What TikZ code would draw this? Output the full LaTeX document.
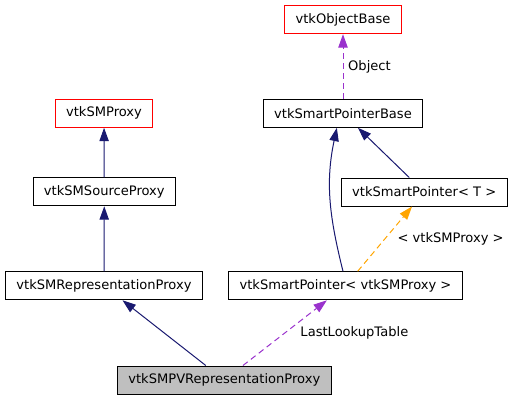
\documentclass[tikz,border=0pt]{standalone}
\usepackage{fontspec}
\setmainfont{DejaVu Sans}
\usetikzlibrary{arrows.meta}
\definecolor{edgeNavy}{HTML}{191970}
\definecolor{edgePurple}{HTML}{9A32CD}
\definecolor{edgeOrange}{HTML}{FFA500}
\definecolor{boxRed}{HTML}{FF0000}
\definecolor{boxGray}{HTML}{BFBFBF}

\begin{document}
\begin{tikzpicture}[
    x=0.75pt, y=-0.75pt,
    cls/.style={rectangle, draw=#1, fill=white, line width=0.75pt,
                minimum height=21pt, inner xsep=8.2pt, inner ysep=0pt,
                font=\fontsize{9.8}{11}\selectfont},
    cls/.default=black,
    inh/.style={-{Triangle[length=10pt, width=7pt]}, line width=0.75pt, edgeNavy},
    usage/.style={-{Triangle[length=10pt, width=7pt]}, line width=0.75pt,
                  dash pattern=on 4.5pt off 3pt, #1},
    lbl/.style={font=\fontsize{9.8}{11}\selectfont, text=black, inner sep=1pt, anchor=west},
  ]
    \useasboundingbox (0,0) rectangle (513,400);

    \node[cls=boxRed] (objBase) at (343,19.7) {vtkObjectBase};
    \node[cls=boxRed] (smProxy) at (104,113.3) {vtkSMProxy};
    \node[cls] (spBase) at (343,113.3) {vtkSmartPointerBase};
    \node[cls] (srcProxy) at (104.3,191.8) {vtkSMSourceProxy};
    \node[cls] (spT) at (424.2,192) {vtkSmartPointer< T >};
    \node[cls] (reprProxy) at (104,285.8) {vtkSMRepresentationProxy};
    \node[cls] (spProxy) at (345.5,285.8) {vtkSmartPointer< vtkSMProxy >};
    \node[cls, fill=boxGray] (pvRepr) at (224.3,380) {vtkSMPVRepresentationProxy};

    \draw[inh] (srcProxy) -- (smProxy);
    \draw[inh] (reprProxy) -- (srcProxy);
    \draw[inh] (pvRepr) -- (reprProxy);
    \draw[inh] (spT) -- (spBase);
    \draw[inh] (spProxy.north -| spBase) to[out=104, in=-102] (spBase.-113);

    \draw[usage=edgePurple] (spBase) -- node[lbl, xshift=2.5pt] (lblObject) {Object} (objBase);
    \draw[usage=edgePurple] (pvRepr) -- node[lbl, xshift=10.3pt] (lblLookup) {LastLookupTable} (spProxy);
    \draw[usage=edgeOrange] (spProxy) -- node[lbl, xshift=8.2pt] (lblTmpl) {< vtkSMProxy >} (spT);
  \end{tikzpicture}
\end{document}
